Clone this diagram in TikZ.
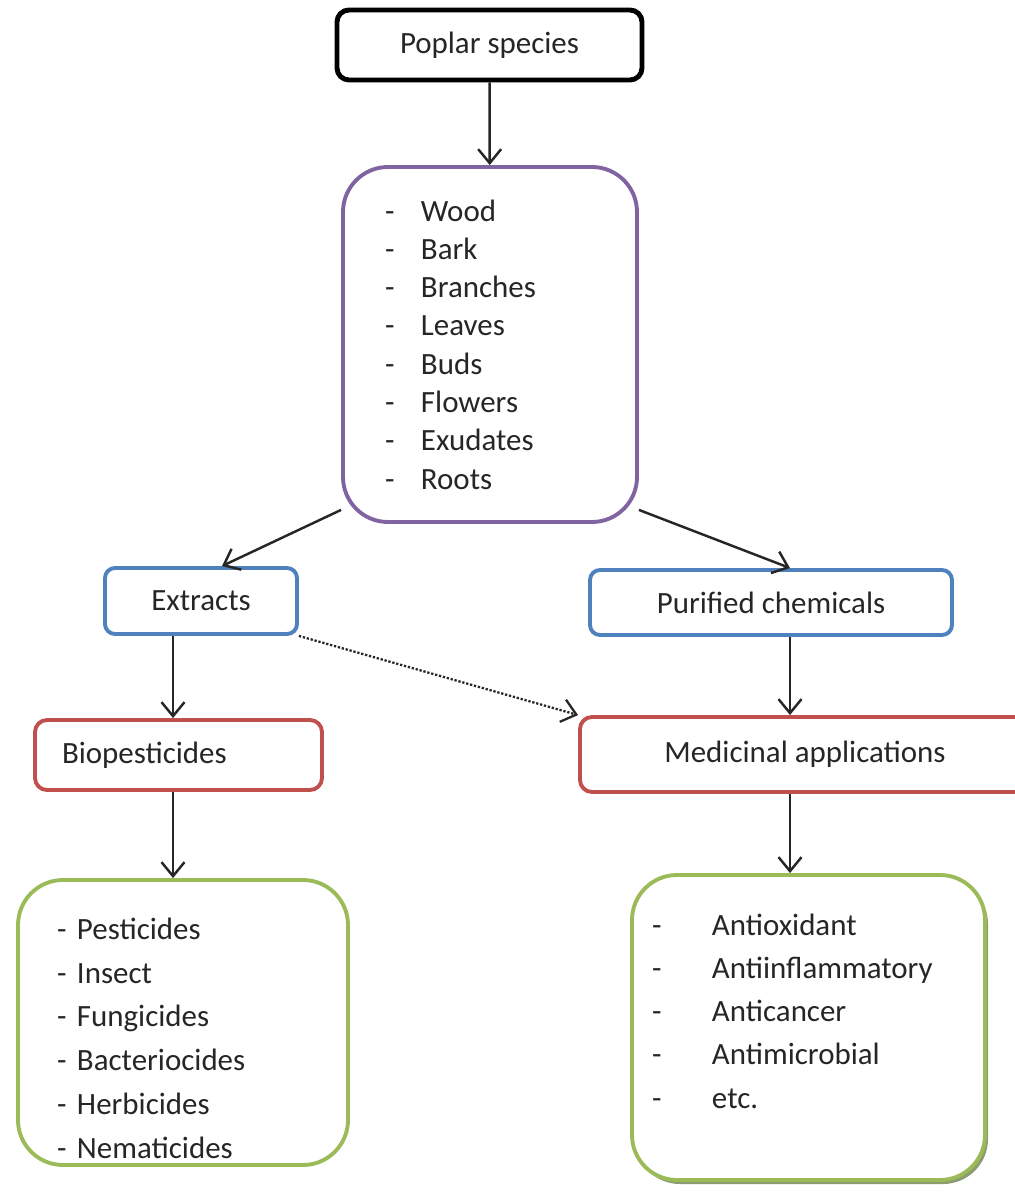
\documentclass[tikz,border=0pt]{standalone}
\usepackage{fontspec}
\setmainfont{Carlito}
\usepackage{tikz}
\usetikzlibrary{
  arrows.meta,
  shadows
}
\definecolor{rootbox}{HTML}{000000}
\definecolor{partsbox}{HTML}{8064A2}
\definecolor{prepbox}{HTML}{4F81BD}
\definecolor{usebox}{HTML}{C0504D}
\definecolor{listbox}{HTML}{9BBB59}
\definecolor{ink}{HTML}{262626}
\newcommand{\dashitem}[2]{\makebox[#1][l]{-}#2}

\begin{document}
\begin{tikzpicture}[
    box/.style={rectangle, line width=2.2pt, text=ink, fill=white,
      font=\fontsize{17.6pt}{21.8pt}\selectfont},
    flow/.style={-{Straight Barb[length=0.28cm,width=0.46cm]}, line width=1.4pt, ink},
    hint/.style={-{Straight Barb[length=0.28cm,width=0.46cm]}, line width=1.3pt, ink, densely dotted}
  ]
  \useasboundingbox (0,0) rectangle (20.3,-23.88);

  % Source
  \node[box, draw=rootbox, line width=2.8pt, rounded corners=0.24cm,
    minimum width=6.1cm, minimum height=1.4cm] (poplar) at (9.79,-0.9) {Poplar species};

  % Plant parts
  \node[box, draw=partsbox, rounded corners=0.9cm, align=left, text width=4.2cm,
    inner xsep=0.84cm, minimum height=7.1cm] (parts) at (9.8,-6.89) {%
    \dashitem{0.72cm}{Wood}\\
    \dashitem{0.72cm}{Bark}\\
    \dashitem{0.72cm}{Branches}\\
    \dashitem{0.72cm}{Leaves}\\
    \dashitem{0.72cm}{Buds}\\
    \dashitem{0.72cm}{Flowers}\\
    \dashitem{0.72cm}{Exudates}\\
    \dashitem{0.72cm}{Roots}};

  % Preparations
  \node[box, draw=prepbox, rounded corners=0.2cm,
    minimum width=3.84cm, minimum height=1.32cm] (extracts) at (4.02,-12.02) {Extracts};
  \node[box, draw=prepbox, rounded corners=0.2cm,
    minimum width=7.24cm, minimum height=1.3cm] (purified) at (15.42,-12.05) {Purified chemicals};

  % Uses
  \node[box, draw=usebox, rounded corners=0.24cm, align=left, text width=4.66cm,
    inner xsep=0.54cm, minimum height=1.4cm] (biopest) at (3.57,-15.1) {Biopesticides};
  \node[box, draw=usebox, rounded corners=0.24cm,
    minimum width=9cm, minimum height=1.5cm] (medicinal) at (16.1,-15.09) {Medicinal applications};

  % Lists
  \node[box, draw=listbox, rounded corners=0.9cm, align=left, text width=5.04cm,
    inner xsep=0.78cm, minimum height=5.7cm,
    font=\fontsize{17.6pt}{24.9pt}\selectfont] (pestlist) at (3.66,-20.45) {%
    \rule{0pt}{30pt}\dashitem{0.4cm}{Pesticides}\\
    \dashitem{0.4cm}{Insect}\\
    \dashitem{0.4cm}{Fungicides}\\
    \dashitem{0.4cm}{Bacteriocides}\\
    \dashitem{0.4cm}{Herbicides}\\
    \dashitem{0.4cm}{Nematicides}};
  \node[box, draw=listbox, rounded corners=0.9cm, align=left, text width=6.26cm,
    inner xsep=0.4cm, minimum height=6.1cm,
    font=\fontsize{17.6pt}{24.6pt}\selectfont,
    drop shadow={shadow xshift=0.06cm, shadow yshift=-0.08cm, fill=listbox!60!black, opacity=0.7}]
    (medlist) at (16.17,-20.55) {%
    \dashitem{1.2cm}{Antioxidant}\\
    \dashitem{1.2cm}{Antiinflammatory}\\
    \dashitem{1.2cm}{Anticancer}\\
    \dashitem{1.2cm}{Antimicrobial}\\
    \dashitem{1.2cm}{etc.}\rule[-19pt]{0pt}{0pt}};

  % Connectors
  \draw[flow] (poplar) -- (parts);
  \draw[flow] (parts.228) -- ([xshift=0.42cm]extracts.north);
  \draw[flow] (parts.-48) -- ([xshift=0.38cm]purified.north);
  \draw[flow] ([xshift=-0.56cm]extracts.south) -- ([xshift=-0.56cm]extracts.south |- biopest.north);
  \draw[hint] (extracts.south east) -- (medicinal.north west);
  \draw[flow] ([xshift=0.38cm]purified.south) -- ([xshift=0.38cm]purified.south |- medicinal.north);
  \draw[flow] ([xshift=-0.11cm]biopest.south) -- ([xshift=-0.11cm]biopest.south |- pestlist.north);
  \draw[flow] ([xshift=0.38cm]purified.south |- medicinal.south) -- ([xshift=0.38cm]purified.south |- medlist.north);
\end{tikzpicture}
\end{document}
